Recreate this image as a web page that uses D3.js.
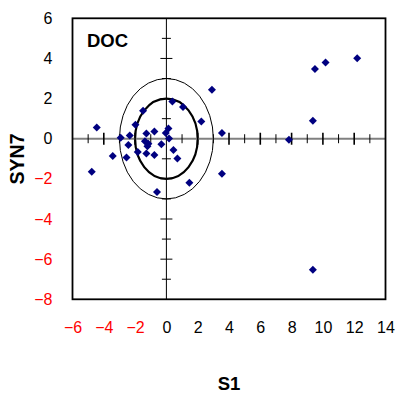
<!DOCTYPE html>
<html>
<head>
<meta charset="utf-8">
<script src="https://cdn.jsdelivr.net/npm/d3@7"></script>
<style>
  html, body { margin: 0; padding: 0; background: #fff; }
  svg { display: block; font-family: Arial, "Liberation Sans", sans-serif; }
</style>
</head>
<body>
<svg id="chart" width="399" height="394"></svg>
<script>
// Sample scores: S1 (horizontal) against SYN7 (vertical)
const s1   = [2.91, 0.38, 1.06, -1.49, 2.23, -1.98, -4.45, 3.55, 0.13, -0.04,
              -0.77, -1.28, -2.34, -2.92, 0.17, -1.37, -1.15, -2.43, -1.21, -0.32,
              0.45, -1.83, -1.28, -0.77, -3.43, -2.55, 0.70, -4.77, 3.55, -0.60,
              1.47, 12.19, 10.17, 9.49, 9.36, 7.83, 9.36];
const syn7 = [2.44, 1.86, 1.58, 1.39, 0.86, 0.70, 0.56, 0.28, 0.51, 0.28,
              0.36, 0.26, 0.16, 0.05, 0.01, -0.13, -0.25, -0.31, -0.38, -0.28,
              -0.56, -0.66, -0.73, -0.81, -0.86, -0.93, -0.98, -1.64, -1.74, -2.65,
              -2.19, 4.01, 3.80, 3.47, 0.90, -0.05, -6.53];

const xTicks = [-6, -4, -2, 0, 2, 4, 6, 8, 10, 12, 14];
const yTicks = [6, 4, 2, 0, -2, -4, -6, -8];
const radii = [2, 3];            // reference circles around the origin
const panelLabel = "DOC";
const xTitle = "S1";
const yTitle = "SYN7";

const svg = d3.select("#chart");
const plotLeft = 72.5, plotRight = 385.5, plotTop = 18.3, plotBottom = 299.3;

const x = d3.scaleLinear().domain([-6, 14]).range([plotLeft, plotRight]);
const y = d3.scaleLinear().domain([-8, 6]).range([plotBottom, plotTop]);

// Reference circles (thin outer, bold inner)
radii.forEach(r => {
  svg.append("ellipse")
    .attr("cx", x(0)).attr("cy", y(0))
    .attr("rx", x(r) - x(0)).attr("ry", y(0) - y(r))
    .attr("fill", "none").attr("stroke", "#000")
    .attr("stroke-width", r === 2 ? 2.2 : 1);
});

// Cross-hair through the origin
svg.append("line")
  .attr("x1", plotLeft).attr("x2", plotRight).attr("y1", y(0)).attr("y2", y(0))
  .attr("stroke", "#808080").attr("stroke-width", 2);
svg.append("line")
  .attr("x1", x(0)).attr("x2", x(0)).attr("y1", plotTop).attr("y2", plotBottom)
  .attr("stroke", "#000").attr("stroke-width", 1);

// Unit tick marks on the cross-hair
d3.range(-5, 14).filter(v => v !== 0).forEach(v => {
  const even = v % 2 === 0;
  svg.append("line")
    .attr("x1", x(v)).attr("x2", x(v))
    .attr("y1", y(0) - (even ? 6 : 4.5)).attr("y2", y(0) + (even ? 6 : 4.5))
    .attr("stroke", "#000").attr("stroke-width", even ? 1.6 : 1);
});
d3.range(-7, 6).filter(v => v !== 0).forEach(v => {
  const even = v % 2 === 0;
  svg.append("line")
    .attr("y1", y(v)).attr("y2", y(v))
    .attr("x1", x(0) - (even ? 6 : 4.5)).attr("x2", x(0) + (even ? 6 : 4.5))
    .attr("stroke", "#000").attr("stroke-width", 1);
});

// Plot frame
svg.append("rect")
  .attr("x", plotLeft).attr("y", plotTop)
  .attr("width", plotRight - plotLeft).attr("height", plotBottom - plotTop)
  .attr("fill", "none").attr("stroke", "#000").attr("stroke-width", 1.8);

// Axes: labels only, negative values in red
const xAxis = svg.append("g")
  .attr("transform", `translate(0,${plotBottom})`)
  .call(d3.axisBottom(x).tickValues(xTicks).tickSize(0).tickPadding(22));
xAxis.select(".domain").remove();
xAxis.selectAll("text")
  .attr("font-size", 16).attr("font-family", "Arial, 'Liberation Sans', sans-serif")
  .attr("fill", d => d < 0 ? "#ff0000" : "#000");

const yAxis = svg.append("g")
  .attr("transform", `translate(${plotLeft},0)`)
  .call(d3.axisLeft(y).tickValues(yTicks).tickSize(0).tickPadding(20));
yAxis.select(".domain").remove();
yAxis.selectAll("text")
  .attr("font-size", 16).attr("font-family", "Arial, 'Liberation Sans', sans-serif")
  .attr("fill", d => d < 0 ? "#ff0000" : "#000");

// Data points as diamonds
const pts = s1.map((v, i) => [v, syn7[i]]);
const h = 4;
svg.append("g").selectAll("path").data(pts).join("path")
  .attr("d", d => {
    const cx = x(d[0]), cy = y(d[1]);
    return `M${cx},${cy - h}L${cx + h},${cy}L${cx},${cy + h}L${cx - h},${cy}Z`;
  })
  .attr("fill", "#000080");

// Titles
svg.append("text").attr("x", 87).attr("y", 47)
  .attr("font-size", 18.5).attr("font-weight", "bold").text(panelLabel);
svg.append("text").attr("x", 229).attr("y", 390)
  .attr("text-anchor", "middle").attr("font-size", 18.5).attr("font-weight", "bold").text(xTitle);
svg.append("text")
  .attr("transform", `translate(24,159) rotate(-90)`)
  .attr("text-anchor", "middle").attr("font-size", 19.5).attr("font-weight", "bold").text(yTitle);
</script>
</body>
</html>
